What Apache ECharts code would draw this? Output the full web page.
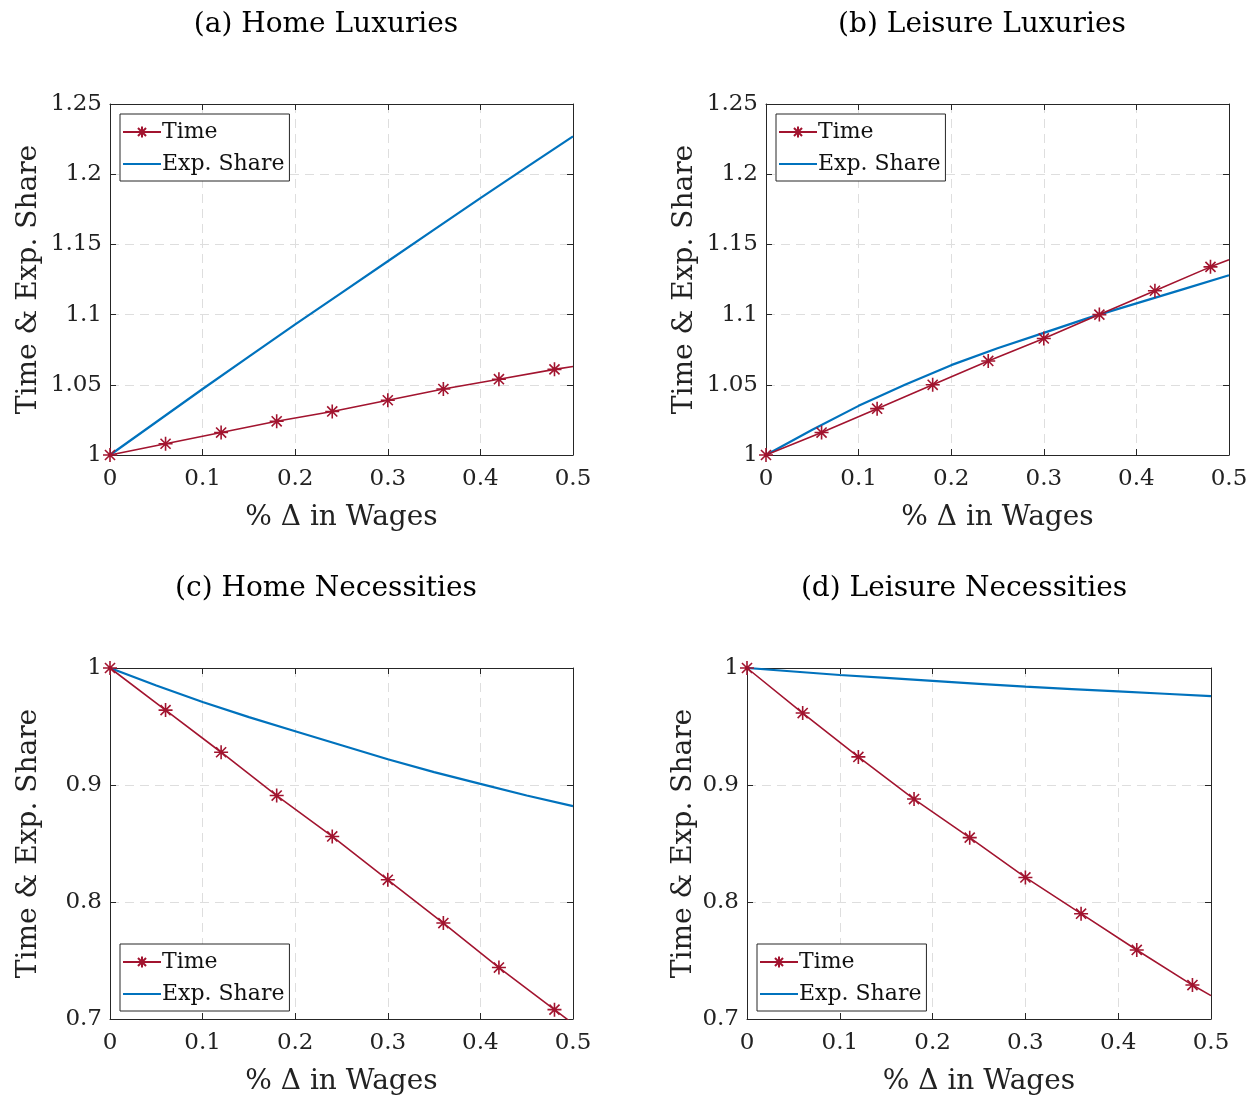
<!DOCTYPE html>
<html>
<head>
<meta charset="utf-8">
<script src="https://cdn.jsdelivr.net/npm/echarts@6/dist/echarts.min.js"></script>
<style>
html,body{margin:0;padding:0;background:#fff;}
#c{width:1254px;height:1097px;}
</style>
</head>
<body>
<div id="c"></div>
<script>
// ---- data ----
const titles = ['(a) Home Luxuries', '(b) Leisure Luxuries', '(c) Home Necessities', '(d) Leisure Necessities'];
const xTime = [0, 0.06, 0.12, 0.18, 0.24, 0.30, 0.36, 0.42, 0.48, 0.50];
const xExp = [0, 0.05, 0.10, 0.15, 0.20, 0.25, 0.30, 0.35, 0.40, 0.45, 0.50];

const timeA = [1, 1.008, 1.016, 1.024, 1.031, 1.039, 1.047, 1.054, 1.061, 1.063];
const expA  = [1, 1.0235, 1.047, 1.070, 1.093, 1.1155, 1.138, 1.1605, 1.183, 1.205, 1.227];
const timeB = [1, 1.016, 1.033, 1.050, 1.067, 1.083, 1.100, 1.117, 1.134, 1.139];
const expB  = [1, 1.018, 1.035, 1.050, 1.064, 1.076, 1.087, 1.098, 1.108, 1.118, 1.128];
const timeC = [1, 0.964, 0.928, 0.891, 0.856, 0.819, 0.782, 0.744, 0.708, 0.696];
const expC  = [1, 0.985, 0.971, 0.958, 0.946, 0.934, 0.922, 0.911, 0.901, 0.891, 0.882];
const timeD = [1, 0.9615, 0.924, 0.888, 0.855, 0.821, 0.790, 0.759, 0.729, 0.720];
const expD  = [1, 0.997, 0.994, 0.9915, 0.989, 0.9865, 0.984, 0.982, 0.980, 0.978, 0.976];

const xTicks = [0, 0.1, 0.2, 0.3, 0.4, 0.5];
const yRangeTop = {min: 1, max: 1.25, interval: 0.05};
const yRangeBottom = {min: 0.7, max: 1, interval: 0.1};
const xLabel = '% \u0394 in Wages';
const yLabel = 'Time & Exp. Share';
const seriesNames = ['Time', 'Exp. Share'];

// ---- layout / styles ----
const FONT = 'DejaVu Serif';
const RED = '#A2142F', BLUE = '#0072BD', AX = '#262626';
const grids = [
  {left: 110, top: 104, width: 463, height: 351},
  {left: 766, top: 104, width: 463, height: 351},
  {left: 110, top: 668, width: 463, height: 351},
  {left: 747, top: 668, width: 464, height: 351}
];
const titlePos = [{x: 321, y: 6}, {x: 977, y: 6}, {x: 321, y: 570}, {x: 959, y: 570}];
const yNameGap = [67, 67, 67, 49];
const legendPos = [{l: 120, t: 114}, {l: 776, t: 114}, {l: 120, t: 944}, {l: 757, t: 944}];
const timeData = [timeA, timeB, timeC, timeD];
const expData = [expA, expB, expC, expD];
const yRanges = [yRangeTop, yRangeTop, yRangeBottom, yRangeBottom];

const star = 'path://M0,-1L0,1M-1,0L1,0M-0.72,-0.72L0.72,0.72M-0.72,0.72L0.72,-0.72';
const fmt = v => String(+(+v).toFixed(2));

const option = {
  backgroundColor: '#fff',
  animation: false,
  title: [], grid: [], xAxis: [], yAxis: [], series: [], legend: []
};

for (let i = 0; i < 4; i++) {
  option.title.push({
    text: titles[i], left: titlePos[i].x, top: titlePos[i].y, textAlign: 'center',
    textStyle: {fontFamily: FONT, fontSize: 28, fontWeight: 'normal', color: '#000'}
  });
  option.grid.push(Object.assign({containLabel: false}, grids[i]));
  const tick = {show: true, inside: true, length: 6, lineStyle: {color: AX}};
  option.xAxis.push({
    type: 'value', gridIndex: i, min: 0, max: 0.5, interval: 0.1,
    axisLine: {show: true, onZero: false, lineStyle: {color: AX, width: 1}},
    axisTick: tick,
    axisLabel: {formatter: fmt, fontFamily: FONT, fontSize: 23, color: '#222', margin: 13},
    splitLine: {show: true, lineStyle: {color: '#dedede', type: [9, 6], width: 1}},
    name: xLabel, nameLocation: 'middle', nameGap: 49,
    nameTextStyle: {fontFamily: FONT, fontSize: 28, color: '#222'}
  });
  option.xAxis.push({
    type: 'value', gridIndex: i, min: 0, max: 0.5, interval: 0.1, position: 'top',
    axisLine: {show: true, onZero: false, lineStyle: {color: AX, width: 1}},
    axisTick: tick, axisLabel: {show: false}, splitLine: {show: false}
  });
  const yr = yRanges[i];
  option.yAxis.push({
    type: 'value', gridIndex: i, min: yr.min, max: yr.max, interval: yr.interval,
    axisLine: {show: true, onZero: false, lineStyle: {color: AX, width: 1}},
    axisTick: tick,
    axisLabel: {formatter: fmt, fontFamily: FONT, fontSize: 23, color: '#222', margin: 8},
    splitLine: {show: true, lineStyle: {color: '#dedede', type: [9, 6], width: 1}},
    name: yLabel, nameLocation: 'middle', nameGap: yNameGap[i],
    nameTextStyle: {fontFamily: FONT, fontSize: 28, color: '#222'}
  });
  option.yAxis.push({
    type: 'value', gridIndex: i, min: yr.min, max: yr.max, interval: yr.interval, position: 'right',
    axisLine: {show: true, onZero: false, lineStyle: {color: AX, width: 1}},
    axisTick: tick, axisLabel: {show: false}, splitLine: {show: false}
  });

  const tData = xTime.map((x, k) => {
    const item = {value: [x, timeData[i][k]]};
    if (k === xTime.length - 1) item.symbol = 'none';
    return item;
  });
  option.series.push({
    name: seriesNames[0], type: 'line', xAxisIndex: 2 * i, yAxisIndex: 2 * i,
    data: tData, color: RED, symbol: star, symbolSize: 14, showAllSymbol: true,
    lineStyle: {color: RED, width: 1.6},
    itemStyle: {color: RED, borderColor: RED, borderWidth: 1.6},
    clip: true, z: 3
  });
  option.series.push({
    name: seriesNames[1], type: 'line', xAxisIndex: 2 * i, yAxisIndex: 2 * i,
    data: xExp.map((x, k) => [x, expData[i][k]]), color: BLUE, symbol: 'none',
    lineStyle: {color: BLUE, width: 2.2}, clip: true, z: 2
  });
  option.legend.push({
    orient: 'vertical', left: legendPos[i].l, top: legendPos[i].t,
    data: [{name: seriesNames[0]}, {name: seriesNames[1], itemStyle: {opacity: 0}}],
    backgroundColor: '#fff', borderColor: AX, borderWidth: 1,
    padding: [7, 5, 6, 2], itemGap: 10, itemWidth: 38, itemHeight: 14,
    textStyle: {fontFamily: FONT, fontSize: 22, color: '#111', padding: [0, 0, 0, -4]},
    selectedMode: false
  });
}

const chart = echarts.init(document.getElementById('c'));
chart.setOption(option);
</script>
</body>
</html>
